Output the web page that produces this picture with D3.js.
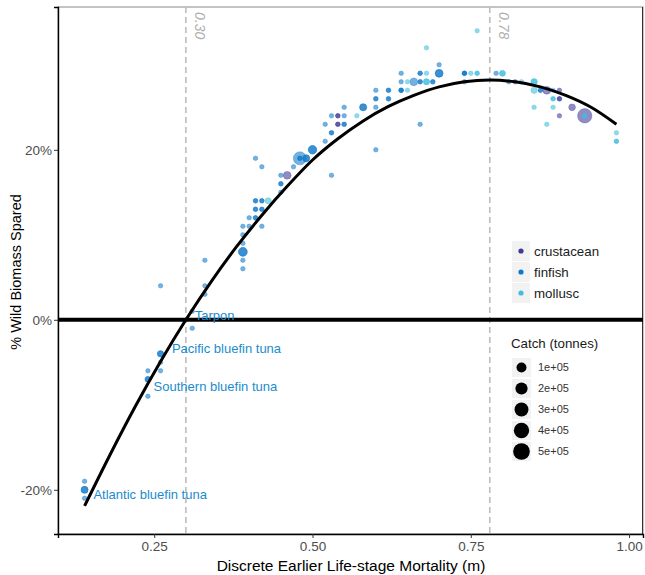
<!DOCTYPE html>
<head>
  <meta charset="utf-8">
  <script src="https://d3js.org/d3.v7.min.js"></script>
  <style>
    body { margin:0; background:#fff; }
    svg { display:block; font-family:"Liberation Sans", Arial, sans-serif; }
  </style>
</head>
<body>
<script>
// points are [mortality, % spared, catch in tonnes]; repeated rows = overlapping species
var finfish = [
  [0.14,-19,0],[0.14,-20,20000],[0.14,-20,20000],[0.14,-21,0],
  [0.24,-6,0],[0.24,-7,5000],[0.24,-7,5000],[0.24,-9,0],
  [0.26,-4,10000],[0.26,-4,10000],[0.26,-5,0],[0.26,-6,0],
  [0.31,1,0],[0.31,-1,0],[0.26,4,0],
  [0.33,7,0],[0.33,4,0],[0.33,3,0],
  [0.39,6,0],[0.39,7,0],[0.39,8,60000],[0.39,8,60000],[0.39,9,0],[0.39,10,0],[0.39,11,0],[0.40,11,0],[0.42,11,0],
  [0.40,12,0],[0.41,12,0],[0.41,12,0],
  [0.41,13,0],[0.41,13,0],[0.42,13,0],[0.42,13,0],
  [0.41,14,0],[0.41,14,0],[0.42,14,0],[0.42,14,0],
  [0.41,19,0],[0.42,18,0],
  [0.45,17,0],[0.45,16,0],[0.45,16,0],[0.45,15,0],
  [0.47,18,0],[0.48,19,250000],[0.48,19,0],[0.48,19,0],[0.49,19,20000],[0.49,19,20000],[0.50,20,50000],[0.50,20,50000],
  [0.52,21,0],[0.52,23,0],[0.53,17,0],[0.53,22,0],[0.53,22,0],[0.55,23,0],[0.55,23,0],[0.53,24,0],[0.55,24,0],
  [0.55,25,0],[0.58,25,20000],[0.58,25,20000],[0.60,25,0],[0.60,20,0],
  [0.60,26,0],[0.60,26,0],[0.62,26,0],[0.62,26,0],[0.60,27,0],[0.62,27,0],[0.62,27,0],[0.64,27,0],[0.64,27,0],[0.64,27,0],
  [0.64,28,0],[0.66,28,35000],[0.67,28,0],[0.67,28,0],[0.69,28,0],[0.69,28,0],
  [0.64,29,0],[0.67,29,0],[0.67,29,0],[0.70,29,35000],[0.70,29,35000],[0.70,30,0],[0.67,23,0],
  [0.74,29,0],[0.74,29,0],[0.74,29,0],[0.74,28,0],
  [0.79,29,0],[0.81,28,0],[0.86,27,0],[0.86,27,0]
];
var crustacean = [
  [0.46,17,35000],[0.54,24,0],[0.54,24,0],[0.54,23,0],[0.54,23,0],[0.82,28,0],
  [0.87,27,35000],[0.89,27,0],[0.89,26,0],[0.89,26,0],[0.91,25,15000],[0.89,24,0],[0.93,24,330000]
];
var mollusc = [
  [0.43,14,10000],[0.57,24,0],[0.65,27,0],[0.65,28,0],[0.68,28,8000],[0.68,28,8000],[0.68,29,0],[0.68,32,0],
  [0.75,29,0],[0.76,29,0],[0.76,29,0],[0.76,34,0],[0.80,29,5000],[0.80,29,5000],[0.83,28,0],
  [0.85,28,10000],[0.85,28,10000],[0.85,27,10000],[0.88,27,0],[0.88,26,0],[0.88,26,0],[0.85,25,0],[0.88,25,0],
  [0.93,24,0],[0.93,24,0],[0.87,23,0],[0.98,22,0],[0.98,21,0],[0.98,21,0]
];

// fitted curve
var curveM = [0.14,0.18,0.22,0.26,0.30,0.34,0.38,0.42,0.46,0.50,0.54,0.58,0.62,0.66,0.70,0.74,0.78,0.82,0.86,0.90,0.94,0.98];
var curveY = [-21.9,-15.9,-10.2,-4.9,0,4.5,8.6,12.3,15.7,18.8,21.3,23.4,25.1,26.4,27.4,28.0,28.2,28.0,27.4,26.4,25.0,23.0];

var refLines = [0.30, 0.78];
var species = ["Tarpon","Pacific bluefin tuna","Southern bluefin tuna","Atlantic bluefin tuna"];
var speciesM = [0.314, 0.278, 0.249, 0.154];
var speciesY = [0.5, -3.4, -7.8, -20.5];

var groups = ["crustacean","finfish","mollusc"];
var groupColors = ["#3f3a99","#0f78c8","#3fbddc"];
var xTicks = [0.25, 0.50, 0.75, 1.00];
var yTicks = [-20, 0, 20];
var catchBreaks = [100000, 200000, 300000, 400000, 500000];

var W = 645, H = 575;
var svg = d3.select("body").append("svg").attr("width", W).attr("height", H);

var x = d3.scaleLinear().domain([0.098, 1.022]).range([58, 643]);
var y = d3.scaleLinear().domain([-25.2, 36.8]).range([534, 7]);
var color = d3.scaleOrdinal().domain(groups).range(groupColors);
var r = function(c) { return 2.3 + 6.6 * Math.sqrt(c / 600000); };

// panel outline
svg.append("rect").attr("x", 58).attr("y", 7).attr("width", 585).attr("height", 527)
  .attr("fill", "none").attr("stroke", "#8a8a8a").attr("stroke-width", 1);
svg.append("line").attr("x1", 642.5).attr("x2", 642.5).attr("y1", 7).attr("y2", 534)
  .attr("stroke", "#333").attr("stroke-width", 1);

// dashed reference lines
svg.selectAll(".ref").data(refLines).enter().append("line")
  .attr("x1", d => x(d)).attr("x2", d => x(d)).attr("y1", 7).attr("y2", 534)
  .attr("stroke", "#bdbdbd").attr("stroke-width", 1.6).attr("stroke-dasharray", "6,4");
svg.selectAll(".reflab").data(refLines).enter().append("text")
  .attr("transform", d => "translate(" + (x(d) + 14) + ",12) rotate(90)")
  .attr("font-size", 14).attr("fill", "#b0b0b0").attr("font-style", "italic").attr("dy", "0.35em")
  .text(d => d3.format(".2f")(d));

// zero line
svg.append("line").attr("x1", 58).attr("x2", 643).attr("y1", y(0)).attr("y2", y(0))
  .attr("stroke", "#000").attr("stroke-width", 4);

// points
var pts = [];
[crustacean, finfish, mollusc].forEach(function(arr, i) {
  arr.forEach(function(p) { pts.push({m: p[0], v: p[1], c: p[2], g: groups[i]}); });
});
pts.sort(function(a, b) { return b.c - a.c; });
svg.append("g").selectAll("circle").data(pts).enter().append("circle")
  .attr("cx", d => x(d.m)).attr("cy", d => y(d.v)).attr("r", d => r(d.c))
  .attr("fill", d => color(d.g)).attr("fill-opacity", 0.58)
  .attr("stroke", d => color(d.g)).attr("stroke-opacity", 0.4).attr("stroke-width", 0.8);

// fitted curve
var line = d3.line().x(d => x(d[0])).y(d => y(d[1])).curve(d3.curveMonotoneX);
svg.append("path").datum(d3.zip(curveM, curveY)).attr("d", line)
  .attr("fill", "none").attr("stroke", "#000").attr("stroke-width", 3);

// species labels
svg.selectAll(".lab").data(species).enter().append("text")
  .attr("x", (d, i) => x(speciesM[i])).attr("y", (d, i) => y(speciesY[i]))
  .attr("dy", "0.35em").attr("font-size", 13).attr("fill", "#1a8ccc").text(d => d);

// axes
var gx = svg.append("g").attr("transform", "translate(0,534)")
  .call(d3.axisBottom(x).tickValues(xTicks).tickFormat(d3.format(".2f")).tickSize(4).tickPadding(3));
var gy = svg.append("g").attr("transform", "translate(58,0)")
  .call(d3.axisLeft(y).tickValues(yTicks).tickFormat(d => d + "%").tickSize(4).tickPadding(2));
[gx, gy].forEach(function(g) {
  g.select(".domain").attr("stroke", "#000").attr("stroke-width", 1.4);
  g.selectAll(".tick line").attr("stroke", "#333");
  g.selectAll(".tick text").attr("fill", "#4d4d4d").attr("font-size", 13.5)
    .attr("font-family", "Liberation Sans, Arial, sans-serif");
});

svg.append("text").attr("x", 351).attr("y", 571).attr("text-anchor", "middle")
  .attr("font-size", 15.5).attr("fill", "#000").text("Discrete Earlier Life-stage Mortality (m)");
svg.append("text").attr("transform", "translate(21,272) rotate(-90)").attr("text-anchor", "middle")
  .attr("font-size", 14.5).attr("fill", "#000").text("% Wild Biomass Spared");

// colour legend
var lg = svg.append("g").attr("transform", "translate(512,241)");
groups.forEach(function(g, i) {
  var row = lg.append("g").attr("transform", "translate(0," + (i * 21) + ")");
  row.append("rect").attr("width", 18).attr("height", 20).attr("fill", "#f2f2f2");
  row.append("circle").attr("cx", 9).attr("cy", 10).attr("r", 2.6).attr("fill", color(g));
  row.append("text").attr("x", 22).attr("y", 10).attr("dy", "0.35em")
    .attr("font-size", 13.3).attr("fill", "#1a1a1a").text(g);
});

// size legend
var sg = svg.append("g").attr("transform", "translate(512,343)");
sg.append("text").attr("x", -1).attr("y", 0).attr("dy", "0.35em")
  .attr("font-size", 13.3).attr("fill", "#1a1a1a").text("Catch (tonnes)");
catchBreaks.forEach(function(c, i) {
  var row = sg.append("g").attr("transform", "translate(0," + (15 + i * 21) + ")");
  row.append("rect").attr("width", 19).attr("height", 19).attr("fill", "#f2f2f2");
  row.append("circle").attr("cx", 9.5).attr("cy", 9.5).attr("r", r(c)).attr("fill", "#000");
  row.append("text").attr("x", 26).attr("y", 9.5).attr("dy", "0.35em")
    .attr("font-size", 11).attr("fill", "#333").text(d3.format(".0e")(c).replace("e+", "e+0"));
});
</script>
</body>
